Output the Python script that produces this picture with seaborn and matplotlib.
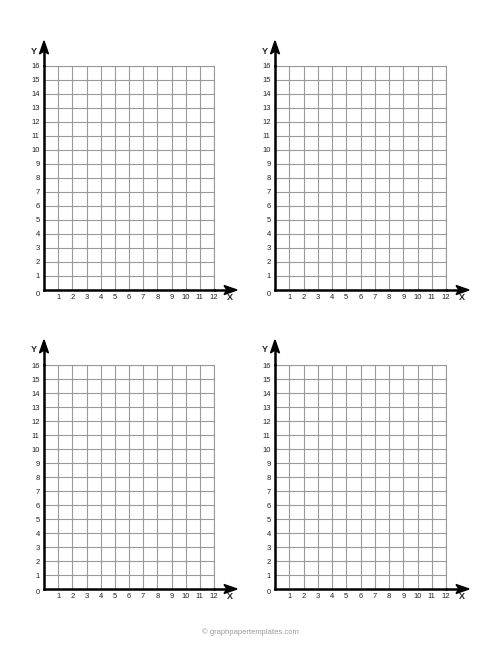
import matplotlib
matplotlib.use("Agg")
import matplotlib.pyplot as plt
import seaborn as sns
import numpy as np
from matplotlib.patches import Polygon

# quadrant graph paper: 4 panels, x 0..12, y 0..16
x_ticks = list(range(1, 13))
y_ticks = list(range(1, 17))
x_max, y_max = 12, 16
footer = "© graphpapertemplates.com"

sns.set_theme(style="white")
plt.rcParams['font.family'] = ['Liberation Sans', 'DejaVu Sans']

W, H = 500, 647
fig = plt.figure(figsize=(W / 100, H / 100), dpi=100)

# panel boxes in pixels: left, top, right, bottom of the grid
boxes = [(44, 66, 214, 290), (275, 66, 446, 290),
         (44, 365, 214, 589), (275, 365, 446, 589)]

grid_kw = dict(color="#9a9a9a", linewidth=0.8)

for (l, t, r, b) in boxes:
    ax = fig.add_axes([l / W, 1 - b / H, (r - l) / W, (b - t) / H])
    ax.set_xlim(0, x_max)
    ax.set_ylim(0, y_max)
    ax.set_xticks(x_ticks)
    ax.set_yticks(y_ticks)
    ax.set_xticklabels([str(v) for v in x_ticks], fontsize=5.5, color="#222222")
    ax.set_yticklabels([str(v) for v in y_ticks], fontsize=5.5, color="#222222")
    ax.tick_params(length=0, pad=3)
    ax.grid(True, **grid_kw)
    # outer border lines of the grid (would be clipped at the limits)
    ax.axvline(x_max, clip_on=False, **grid_kw)
    ax.axhline(y_max, clip_on=False, **grid_kw)
    for s in ["top", "right"]:
        ax.spines[s].set_visible(False)
    for s in ["left", "bottom"]:
        ax.spines[s].set_color("black")
        ax.spines[s].set_linewidth(1.8)
        ax.spines[s].set_zorder(5)

    px = x_max / (r - l)   # data units per pixel
    py = y_max / (b - t)
    # x axis arrow
    xt = x_max + 23 * px
    ax.plot([x_max, xt - 6 * px], [0, 0], color="black", lw=1.8, clip_on=False, zorder=5)
    ax.add_patch(Polygon([(xt, 0), (xt - 13 * px, 4.5 * py), (xt - 10 * px, 0),
                          (xt - 13 * px, -4.5 * py)], closed=True, color="black",
                         clip_on=False, zorder=6))
    # y axis arrow
    yt = y_max + 25 * py
    ax.plot([0, 0], [y_max, yt - 6 * py], color="black", lw=1.8, clip_on=False, zorder=5)
    ax.add_patch(Polygon([(0, yt), (4.5 * px, yt - 13 * py), (0, yt - 10 * py),
                          (-4.5 * px, yt - 13 * py)], closed=True, color="black",
                         clip_on=False, zorder=6))
    ax.text(xt - 7 * px, -7.5 * py, "X", fontsize=6.5, fontweight="bold",
            ha="center", va="center")
    ax.text(-10 * px, y_max + 15 * py, "Y", fontsize=6.5, fontweight="bold",
            ha="center", va="center")
    ax.text(-4 * px, -4 * py, "0", fontsize=5.5, color="#222222",
            ha="right", va="center")

fig.text(0.5, 1 - 632 / H, footer, fontsize=5.5, color="#999999", ha="center", va="center")
fig.savefig("out.png", dpi=100, facecolor="white")
